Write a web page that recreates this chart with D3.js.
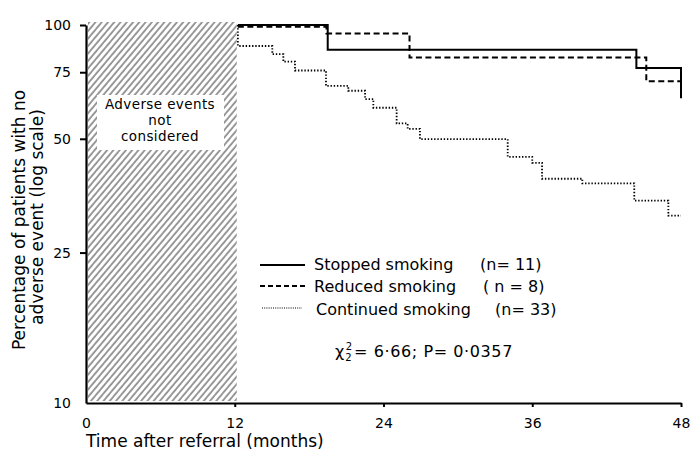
<!DOCTYPE html>
<html>
<head>
<meta charset="utf-8">
<script src="https://cdn.jsdelivr.net/npm/d3@7"></script>
<style>
  html, body { margin: 0; padding: 0; background: #fff; }
  svg { display: block; font-family: "DejaVu Sans", sans-serif; }
</style>
</head>
<body>
<svg id="chart" width="691" height="452"></svg>
<script>
// ---- data ----
const xTicks = [0, 12, 24, 36, 48];
const yTicks = [10, 25, 50, 75, 100];
const seriesNames = ["Stopped smoking", "Reduced smoking", "Continued smoking"];
const seriesN = ["(n= 11)", "( n = 8)", "(n= 33)"];

const stoppedTimes  = [12.25, 19.5, 44.4, 48];
const stoppedValues = [100, 86, 77, 64];

const reducedTimes  = [12.25, 19.4, 26.1, 45.2, 48];
const reducedValues = [99, 95, 82, 71, 71];

const continuedTimes  = [12.25, 12.25, 15.03, 15.92, 16.86, 19.36, 21.16, 22.51, 23.18, 25.06, 25.95, 26.94, 34.02, 36.0, 36.79, 40.04, 44.23, 46.98, 48];
const continuedValues = [100, 88, 83.7, 80, 75.8, 69, 67, 63.7, 60.4, 54.9, 53.1, 49.9, 44.8, 43.2, 39.2, 38.1, 34.3, 31.3, 31.3];

const excludedPeriod = [0, 12];
const excludedLabel = ["Adverse events", "not", "considered"];
const statText = { chi: "χ", sub: "2", sup: "2", rest: "= 6·66; P= 0·0357" };

// ---- scales ----
const svg = d3.select("#chart");
const x = d3.scaleLinear().domain([0, 48]).range([86, 681]);
const y = d3.scaleLog().domain([10, 100]).range([403, 25]);

// hatch pattern
const defs = svg.append("defs");
const pat = defs.append("pattern")
  .attr("id", "hatch").attr("patternUnits", "userSpaceOnUse")
  .attr("width", 4.8).attr("height", 10)
  .attr("patternTransform", "rotate(40)");
pat.append("line").attr("x1", 1).attr("y1", 0).attr("x2", 1).attr("y2", 10)
  .attr("stroke", "#000").attr("stroke-width", 0.8);

svg.append("rect")
  .attr("x", x(excludedPeriod[0]) + 2).attr("y", y(100) - 3)
  .attr("width", x(excludedPeriod[1]) - x(excludedPeriod[0]))
  .attr("height", y(10) - y(100) + 1)
  .attr("fill", "url(#hatch)");

// white label box
svg.append("rect").attr("x", 97).attr("y", 95).attr("width", 127).attr("height", 55).attr("fill", "#fff");
svg.append("g").selectAll("text").data(excludedLabel).join("text")
  .attr("x", 160).attr("y", (d, i) => 109 + i * 16)
  .attr("text-anchor", "middle").attr("font-size", 13.5)
  .attr("letter-spacing", 0.4).text(d => d);

// axes
const yAxis = d3.axisLeft(y).tickValues(yTicks).tickFormat(d3.format("d"))
  .tickSize(6).tickSizeOuter(0).tickPadding(9);
const gy = svg.append("g").attr("transform", "translate(86,0)").call(yAxis);
gy.select(".domain").attr("stroke-width", 2.2);
gy.selectAll(".tick line").attr("stroke-width", 2).filter(d => d === 10).remove();
gy.selectAll(".tick text").attr("font-size", 14).attr("font-family", "DejaVu Sans").attr("fill", "#000");

const xAxis = d3.axisBottom(x).tickValues(xTicks).tickFormat(d3.format("d"))
  .tickSize(4).tickSizeOuter(0).tickPadding(11);
const gx = svg.append("g").attr("transform", "translate(0,403)").call(xAxis);
gx.select(".domain").attr("stroke-width", 2.2);
gx.selectAll(".tick line").attr("stroke-width", 2).filter(d => d === 0).remove();
gx.selectAll(".tick text").attr("font-size", 14).attr("font-family", "DejaVu Sans").attr("fill", "#000");

// axis titles
svg.append("text").attr("x", 86).attr("y", 447).attr("font-size", 17).text("Time after referral (months)");
svg.append("text").attr("transform", "translate(25,220) rotate(-90)")
  .attr("text-anchor", "middle").attr("font-size", 17).text("Percentage of patients with no");
svg.append("text").attr("transform", "translate(43,217) rotate(-90)")
  .attr("text-anchor", "middle").attr("font-size", 17).text("adverse event (log scale)");

// curves
const line = d3.line().x(d => x(d[0])).y(d => y(d[1])).curve(d3.curveStepAfter);
const styles = [
  { dash: null, width: 2 },
  { dash: "6,3.5", width: 2 },
  { dash: "1.4,1.8", width: 1.8 }
];
const series = [
  d3.zip(stoppedTimes, stoppedValues),
  d3.zip(reducedTimes, reducedValues),
  d3.zip(continuedTimes, continuedValues)
];
series.forEach((s, i) => {
  svg.append("path").attr("d", line(s)).attr("fill", "none")
    .attr("stroke", "#000").attr("stroke-width", styles[i].width)
    .attr("stroke-dasharray", styles[i].dash);
});

// legend
const legY = [265, 286, 308];
const legBase = [270, 292, 315];
const nX = [480, 483, 495];
seriesNames.forEach((name, i) => {
  svg.append("line").attr("x1", i === 2 ? 262 : 260).attr("x2", i === 2 ? 302 : 305)
    .attr("y1", legY[i]).attr("y2", legY[i])
    .attr("stroke", "#000").attr("stroke-width", i === 2 ? 1.2 : 1.8)
    .attr("stroke-dasharray", i === 0 ? null : (i === 1 ? "5,3" : "1,1.2"));
  svg.append("text").attr("x", i === 2 ? 316 : 314).attr("y", legBase[i]).attr("font-size", 16).text(name);
  svg.append("text").attr("x", nX[i]).attr("y", legBase[i]).attr("font-size", 16).text(seriesN[i]);
});

// chi-square text
const st = svg.append("text").attr("x", 335).attr("y", 357).attr("font-size", 16);
st.append("tspan").text(statText.chi);
st.append("tspan").attr("font-size", 10).attr("dy", 4).attr("dx", 1).text(statText.sub);
st.append("tspan").attr("font-size", 10).attr("dx", -6).attr("dy", -11).text(statText.sup);
st.append("tspan").attr("dy", 7).attr("dx", 2).attr("letter-spacing", 0.6).text(statText.rest);
</script>
</body>
</html>
